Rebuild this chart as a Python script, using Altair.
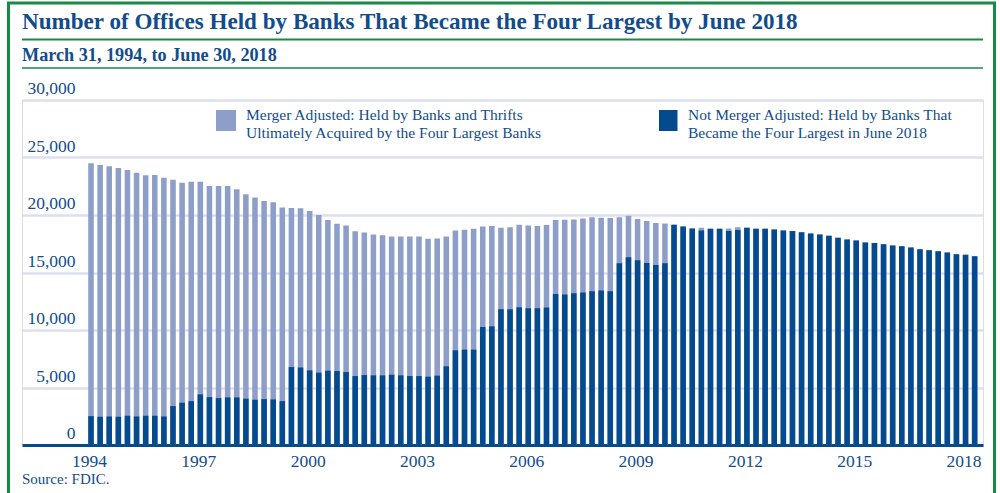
import altair as alt
import pandas as pd

# Quarterly observations, 1994 Q1 .. 2018 Q2
start_year = 1994
n_quarters = 98

# Merger adjusted: held by banks and thrifts ultimately acquired by the four largest banks
merger_adjusted = [
    24495, 24350, 24230, 24085, 23910, 23680, 23450, 23475, 23240, 23070,
    22810, 22895, 22895, 22520, 22520, 22520, 22230, 21795, 21530, 21210,
    21100, 20660, 20600, 20590, 20340, 19990, 19555, 19235, 19090, 18595,
    18480, 18305, 18250, 18135, 18135, 18135, 18135, 17930, 17960, 18135,
    18655, 18710, 18800, 19005, 19035, 18885, 18945, 19145, 19090, 19035,
    19120, 19555, 19585, 19615, 19700, 19815, 19760, 19730, 19815, 19930,
    19645, 19470, 19295, 19265, 19145, 19005, 18830, 18885, 18800, 18800,
    18830, 18945, 18885, 18800, 18800, 18745, 18655, 18600, 18510, 18395,
    18310, 18190, 18015, 17875, 17790, 17615, 17555, 17465, 17350, 17290,
    17175, 17030, 16945, 16855, 16740, 16595, 16535, 16420,
]

# Not merger adjusted: held by banks that became the four largest in June 2018
not_merger_adjusted = [
    2509, 2456, 2480, 2456, 2543, 2480, 2543, 2543, 2480, 3380,
    3676, 3815, 4399, 4164, 4077, 4138, 4138, 4025, 3937, 3990,
    3964, 3815, 6777, 6740, 6490, 6290, 6460, 6430, 6345, 5995,
    6080, 6055, 6055, 6110, 6055, 5995, 5995, 5940, 6030, 6840,
    8230, 8290, 8290, 10260, 10320, 11800, 11800, 11975, 11890, 11890,
    11950, 13140, 13085, 13200, 13255, 13370, 13430, 13370, 15810, 16330,
    16070, 15835, 15660, 15810, 19145, 19005, 18830, 18655, 18800, 18800,
    18600, 18685, 18885, 18800, 18800, 18745, 18655, 18600, 18510, 18395,
    18310, 18190, 18015, 17875, 17790, 17615, 17555, 17465, 17350, 17290,
    17175, 17030, 16945, 16855, 16740, 16595, 16535, 16420,
]

year_ticks = [1994, 1997, 2000, 2003, 2006, 2009, 2012, 2015, 2018]
y_ticks = [0, 5000, 10000, 15000, 20000, 25000, 30000]

title_text = "Number of Offices Held by Banks That Became the Four Largest by June 2018"
subtitle_text = "March 31, 1994, to June 30, 2018"
legend_light = ["Merger Adjusted: Held by Banks and Thrifts",
                "Ultimately Acquired by the Four Largest Banks"]
legend_dark = ["Not Merger Adjusted: Held by Banks That",
               "Became the Four Largest in June 2018"]
source_text = "Source: FDIC."

LIGHT = "#8D9EC8"
DARK = "#034A8E"
TEXT = "#124C8C"
GREEN = "#178A45"
GRID = "#DCE0EE"
FONT = "Liberation Serif"

df = pd.DataFrame({
    "t": [start_year + i / 4 for i in range(n_quarters)],
    "merger": merger_adjusted,
    "not_merger": not_merger_adjusted,
})

W, H = 961, 345
xscale = alt.Scale(domain=[1992.106, 2018.479], nice=False, zero=False)
yscale = alt.Scale(domain=[0, 30000], nice=False)

base = alt.Chart(df).transform_calculate(
    t0="datum.t - 0.076", t1="datum.t + 0.076"
)

light = base.mark_bar(color=LIGHT).encode(
    x=alt.X("t0:Q", scale=xscale, title=None,
            axis=alt.Axis(values=year_ticks, format="d", grid=False, ticks=False,
                          tickSize=0, domainColor=DARK, domainWidth=3,
                          labelFont=FONT, labelFontSize=17.5, labelColor=TEXT,
                          labelBaseline="alphabetic", labelPadding=21,
                          labelOffset=-2, labelFlush=False)),
    x2="t1:Q",
    y=alt.Y("merger:Q", scale=yscale, title=None,
            axis=alt.Axis(values=y_ticks, format=",.0f", grid=True, gridColor=GRID,
                          gridWidth=2.5, domain=False, ticks=False, tickSize=0,
                          labelFont=FONT, labelFontSize=17.5, labelColor=TEXT,
                          labelAlign="right", labelBaseline="alphabetic",
                          labelPadding=-53, labelOffset=-6.5)),
    y2=alt.datum(0),
)

dark = base.mark_bar(color=DARK).encode(
    x="t0:Q", x2="t1:Q", y="not_merger:Q", y2=alt.datum(0)
)

one = pd.DataFrame({"a": [0]})


def txt(s, x, y, size, bold=False, align="left"):
    return alt.Chart(one).mark_text(
        font=FONT, fontSize=size, fontWeight="bold" if bold else "normal",
        color=TEXT, align=align, baseline="alphabetic",
    ).encode(x=alt.value(x), y=alt.value(y), text=alt.value(s))


def rule(x1, x2, y, w, color):
    return alt.Chart(one).mark_rule(color=color, strokeWidth=w).encode(
        x=alt.value(x1), x2=alt.value(x2), y=alt.value(y))


def box(x1, x2, y1, y2, color):
    return alt.Chart(one).mark_rect(color=color).encode(
        x=alt.value(x1), x2=alt.value(x2), y=alt.value(y1), y2=alt.value(y2))


frame = alt.Chart(one).mark_rect(fill=None, stroke=GREEN, strokeWidth=3).encode(
    x=alt.value(-13.5), x2=alt.value(972.5), y=alt.value(-97), y2=alt.value(430))

layers = [
    light, dark,
    frame,
    rule(0, W, -60.5, 2.2, GREEN),
    rule(0, W, -32, 1.5, GREEN),
    txt(title_text, 0, -70.7, 23.1, bold=True),
    txt(subtitle_text, 0, -39, 18.2, bold=True),
    box(194, 214, 10, 31, LIGHT),
    txt(legend_light[0], 224, 20, 15.5),
    txt(legend_light[1], 224, 38, 15.5),
    box(637, 655.5, 10, 31, DARK),
    txt(legend_dark[0], 666, 20, 15.5),
    txt(legend_dark[1], 666, 38, 15.5),
    txt(source_text, 0, 384, 15),
]

chart = alt.layer(*layers).properties(
    width=W, height=H,
    autosize=alt.AutoSizeParams(type="none"),
    padding={"left": 22, "top": 100, "right": 17, "bottom": 48},
).configure_view(stroke=None).configure(background="white")

chart.save("out.html", embed_options={"renderer": "svg", "actions": False})
